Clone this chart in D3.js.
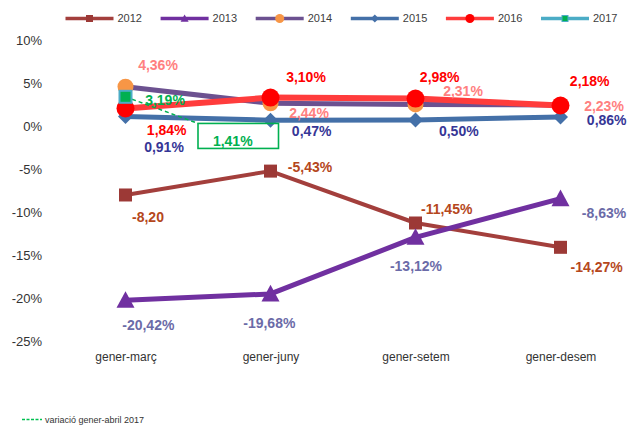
<!DOCTYPE html>
<html><head><meta charset="utf-8">
<script src="https://cdn.jsdelivr.net/npm/d3@7/dist/d3.min.js"></script>
<style>
html,body{margin:0;padding:0;background:#fff;}
svg{display:block;font-family:"Liberation Sans",Arial,sans-serif;}
</style></head>
<body><svg id="c" width="640" height="425"></svg>
<script>
// ---- data ----
const categories = ["gener-març", "gener-juny", "gener-setem", "gener-desem"];
const years = ["2012", "2013", "2014", "2015", "2016", "2017"];
const values2012 = [-8.20, -5.43, -11.45, -14.27];
const values2013 = [-20.42, -19.68, -13.12, -8.63];
const values2014 = [4.36, 2.44, 2.31, 2.23];
const values2015 = [0.91, 0.47, 0.50, 0.86];
const values2016 = [1.84, 3.10, 2.98, 2.18];
const values2017 = [3.19, null, null, null];
const labels2012 = ["-8,20", "-5,43%", "-11,45%", "-14,27%"];
const labels2013 = ["-20,42%", "-19,68%", "-13,12%", "-8,63%"];
const labels2014 = ["4,36%", "2,44%", "2,31%", "2,23%"];
const labels2015 = ["0,91%", "0,47%", "0,50%", "0,86%"];
const labels2016 = ["1,84%", "3,10%", "2,98%", "2,18%"];
const labels2017 = ["3,19%", null, null, null];
const yTicks = [10, 5, 0, -5, -10, -15, -20, -25];
const aprilVariation = 1.41;
const aprilLabel = "1,41%";
const noteText = "variació gener-abril 2017";

// ---- layout / style ----
const svg = d3.select("#c");
const x = d3.scalePoint().domain(categories).range([125.5, 560.5]);
const y = d3.scaleLinear().domain([-25, 10]).range([339.8, 38.1]);
const step = x.step();

const series = [
  {year:"2012", vals:values2012, labels:labels2012, color:"#a33f3c", mfill:"#9c3936", w:4, shape:"square", ms:13, lcol:"#b5471c",
   off:[[22.5,21.7],[39.5,-4.4],[31.2,-14],[36.2,20]]},
  {year:"2013", vals:values2013, labels:labels2013, color:"#7030a0", mfill:"#7030a0", w:5, shape:"triangle", ms:18, lcol:"#6b6ba8",
   off:[[22.8,24.7],[-1.2,29.4],[0.5,28.6],[43.5,14]]},
  {year:"2014", vals:values2014, labels:labels2014, color:"#6c5190", mfill:"#f79646", w:5, shape:"circle", ms:8, lcol:"#ff8080",
   off:[[32.5,-21.7],[38.5,9.4],[47.5,-13.7],[43.5,0.6]]},
  {year:"2015", vals:values2015, labels:labels2015, color:"#4470a8", mfill:"#4470a8", w:5, shape:"diamond", ms:7.5, lcol:"#363696",
   off:[[38.5,30.2],[41.2,10.7],[43.3,11],[46.2,3.1]]},
  {year:"2016", vals:values2016, labels:labels2016, color:"#ff3c3c", mfill:"#ff0000", w:6, shape:"circle", ms:9, lcol:"#ff0000",
   off:[[41.2,21.6],[35.5,-20.6],[24.2,-21.6],[29.2,-24.8]]},
  {year:"2017", vals:values2017, labels:labels2017, color:"#4bacc6", mfill:"#00b050", w:4, shape:"square2", ms:12, lcol:"#00b050",
   off:[[39.5,3.2],[0,0],[0,0],[0,0]]}
];

function marker(g, shape, size, fill, stroke) {
  let el;
  if (shape === "circle") {
    el = g.append("circle").attr("r", size).attr("fill", fill);
  } else if (shape === "square" || shape === "square2") {
    el = g.append("rect").attr("x", -size/2).attr("y", -size/2).attr("width", size).attr("height", size).attr("fill", fill);
    if (shape === "square2") el.attr("stroke", stroke).attr("stroke-width", 2);
  } else if (shape === "triangle") {
    const h = size * 0.92;
    el = g.append("path").attr("d", `M0,${-h*0.55}L${size/2},${h*0.45}L${-size/2},${h*0.45}Z`).attr("fill", fill);
  } else if (shape === "diamond") {
    el = g.append("path").attr("d", `M0,${-size}L${size},0L0,${size}L${-size},0Z`).attr("fill", fill);
  }
  return el;
}

// y axis
const yAxis = svg.append("g").attr("transform", "translate(42,2)")
  .call(d3.axisLeft(y).tickValues(yTicks).tickFormat(d => d + "%").tickSize(0).tickPadding(0));
yAxis.select(".domain").remove();
yAxis.selectAll("text").attr("font-size", 13).attr("fill", "#333").attr("font-family", "Liberation Sans, Arial, sans-serif");

// x axis
const xAxis = svg.append("g").attr("transform", "translate(0,352)")
  .call(d3.axisBottom(x).tickSize(0).tickPadding(0));
xAxis.select(".domain").remove();
xAxis.selectAll("text").attr("font-size", 12).attr("fill", "#333").attr("font-family", "Liberation Sans, Arial, sans-serif");

// lines
const lineGen = d3.line().defined(d => d.v !== null).x(d => x(d.c)).y(d => y(d.v));
series.forEach(s => {
  const pts = s.vals.map((v, i) => ({c: categories[i], v}));
  if (pts.filter(p => p.v !== null).length > 1) {
    svg.append("path").datum(pts).attr("d", lineGen).attr("fill", "none")
      .attr("stroke", s.color).attr("stroke-width", s.w).attr("stroke-linejoin", "round");
  }
});

// annotation: gener-abril 2017
const boxL = x(categories[0]) + step * 0.5;
const boxR = x(categories[1]) + 8;
const boxT = y(0.1);
const boxH = 25;
svg.append("line")
  .attr("x1", x(categories[0])).attr("y1", y(values2017[0]))
  .attr("x2", boxL).attr("y2", boxT)
  .attr("stroke", "#00b050").attr("stroke-width", 1.5).attr("stroke-dasharray", "4,3");

// markers
series.forEach(s => {
  s.vals.forEach((v, i) => {
    if (v === null) return;
    const g = svg.append("g").attr("transform", `translate(${x(categories[i])},${y(v)})`);
    marker(g, s.shape, s.ms, s.mfill, s.color);
  });
});

svg.append("rect").attr("x", boxL).attr("y", boxT).attr("width", boxR - boxL).attr("height", boxH)
  .attr("fill", "none").attr("stroke", "#00b050").attr("stroke-width", 1.6);
svg.append("text").attr("x", (boxL + boxR) / 2 - 5.5).attr("y", boxT + 17.5).attr("dy", "0.35em")
  .attr("text-anchor", "middle").attr("font-size", 14).attr("font-weight", "bold").attr("fill", "#00b050")
  .text(aprilLabel);

// data labels
series.forEach(s => {
  s.vals.forEach((v, i) => {
    if (v === null || !s.labels[i]) return;
    svg.append("text")
      .attr("x", x(categories[i]) + s.off[i][0])
      .attr("y", y(v) + s.off[i][1])
      .attr("dy", "0.35em").attr("text-anchor", "middle")
      .attr("font-size", 14).attr("font-weight", "bold").attr("fill", s.lcol)
      .text(s.labels[i]);
  });
});

// legend
const legend = svg.append("g").attr("transform", "translate(65.5,18.5)");
series.forEach((s, i) => {
  const g = legend.append("g").attr("transform", `translate(${i * 95.1},0)`);
  g.append("line").attr("x1", 0).attr("x2", 48).attr("y1", 0).attr("y2", 0)
    .attr("stroke", s.color).attr("stroke-width", 3.5);
  const mg = g.append("g").attr("transform", "translate(24,0)");
  const msz = {square: 7, triangle: 8, circle: 4.5, diamond: 4, square2: 6}[s.shape];
  marker(mg, s.shape, msz, s.mfill, s.color).attr("stroke-width", 1);
  g.append("text").attr("x", 52).attr("y", 0).attr("dy", "0.35em")
    .attr("font-size", 11).attr("fill", "#404040").text(s.year);
});

// bottom note
const note = svg.append("g").attr("transform", "translate(22,419.5)");
note.append("line").attr("x1", 0).attr("x2", 20).attr("y1", 0).attr("y2", 0)
  .attr("stroke", "#00c050").attr("stroke-width", 1.5).attr("stroke-dasharray", "3,1.5");
note.append("text").attr("x", 23).attr("y", 3).attr("font-size", 9).attr("fill", "#333").text(noteText);
</script>
</body></html>
